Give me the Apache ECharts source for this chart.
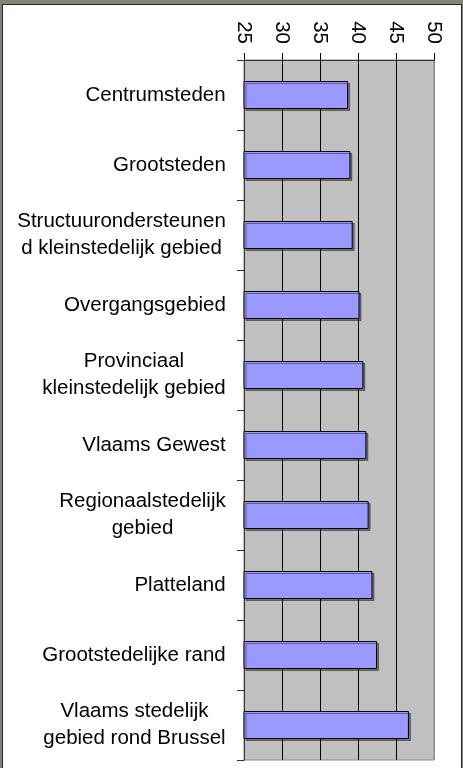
<!DOCTYPE html>
<html>
<head>
<meta charset="utf-8">
<script src="https://cdn.jsdelivr.net/npm/echarts@6/dist/echarts.min.js"></script>
<style>
    html, body {margin: 0; padding: 0; background: #868377; overflow: hidden;}
    #chart {
        position: absolute; left: 2px; top: 4px;
        width: 460px; height: 770px;
        box-sizing: border-box;
        border: 1px solid #2b2b2b;
        background: #ffffff;
    }
</style>
</head>
<body>
<div id="chart"></div>
<script>
    // categories top to bottom
    var categories = [
        "Centrumsteden",
        "Grootsteden",
        "Structuurondersteunen\nd kleinstedelijk gebied",
        "Overgangsgebied",
        "Provinciaal\nkleinstedelijk gebied",
        "Vlaams Gewest",
        "Regionaalstedelijk\ngebied",
        "Platteland",
        "Grootstedelijke rand",
        "Vlaams stedelijk\ngebied rond Brussel"
    ];
    var values = [38.7, 39.0, 39.3, 40.2, 40.7, 41.1, 41.4, 41.9, 42.5, 46.7];
    var axisMin = 25, axisMax = 50, axisStep = 5;

    var font = "'Liberation Sans', Arial, sans-serif";
    var fontSize = 20.5;

    // lines of a wrapped label are centred on each other, so each label gets a box as wide as its longest line
    var ctx = document.createElement('canvas').getContext('2d');
    ctx.font = fontSize + 'px ' + font;
    var rich = {};
    categories.forEach(function (c, i) {
        var w = 0;
        c.split('\n').forEach(function (s) { w = Math.max(w, ctx.measureText(s).width); });
        rich['l' + i] = {width: Math.ceil(w), align: 'center', fontSize: fontSize, fontFamily: font, color: '#000', lineHeight: 27};
    });

    var chart = echarts.init(document.getElementById('chart'));
    chart.setOption({
        animation: false,
        grid: {
            left: 241,
            top: 55,
            width: 190,
            height: 700,
            show: true,
            backgroundColor: '#c0c0c0',
            borderColor: '#8c8c8c',
            borderWidth: 1
        },
        xAxis: {
            type: 'value',
            position: 'top',
            min: axisMin,
            max: axisMax,
            interval: axisStep,
            axisLine: {show: true, lineStyle: {color: '#333', width: 1}},
            axisTick: {show: true, length: 7, lineStyle: {color: '#000'}},
            axisLabel: {
                rotate: 90,
                margin: 16,
                color: '#000',
                fontSize: fontSize,
                fontFamily: font
            },
            splitLine: {
                show: true,
                lineStyle: {color: ['#000', '#000', '#000', '#000', '#000', '#8c8c8c'], width: 1}
            }
        },
        yAxis: {
            type: 'category',
            inverse: true,
            data: categories,
            axisLine: {show: true, lineStyle: {color: '#333', width: 1}},
            axisTick: {show: true, length: 7, lineStyle: {color: '#333'}},
            axisLabel: {
                margin: 18,
                color: '#000',
                fontSize: fontSize,
                fontFamily: font,
                align: 'right',
                formatter: function (v, idx) {
                    return v.split('\n').map(function (s) { return '{l' + idx + '|' + s + '}'; }).join('\n');
                },
                rich: rich
            },
            splitLine: {show: false}
        },
        series: [{
            type: 'bar',
            data: values,
            barWidth: 28,
            itemStyle: {
                color: '#9999ff',
                borderColor: '#000',
                borderWidth: 1,
                shadowColor: 'rgba(0,0,0,0.4)',
                shadowOffsetX: 2,
                shadowOffsetY: 2,
                shadowBlur: 0
            }
        }]
    });
</script>
</body>
</html>
